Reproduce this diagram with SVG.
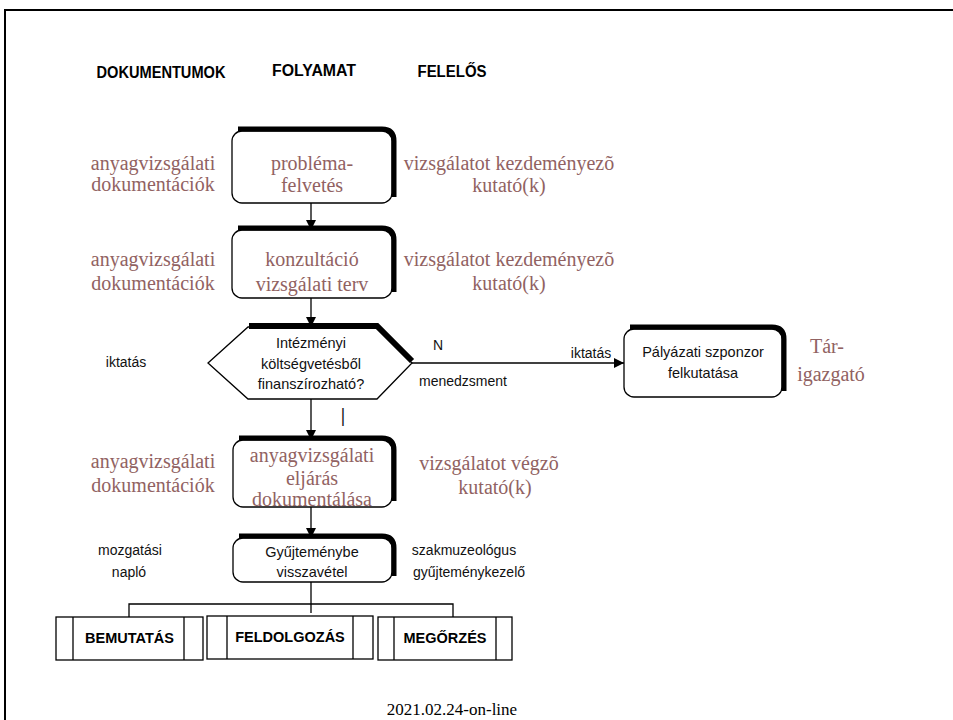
<svg xmlns="http://www.w3.org/2000/svg" width="953" height="720" viewBox="0 0 953 720">
<defs>
<style>
.frame{fill:none;stroke:#000;stroke-width:2}
.box{fill:#fff;stroke:#000;stroke-width:1.3}
.thick{fill:none;stroke:#000;stroke-width:5}
.ln{fill:none;stroke:#000;stroke-width:1.3}
.pp{fill:#fff;stroke:#000;stroke-width:1.3}
.br{font-family:"Liberation Serif","Times New Roman",serif;font-size:20px;fill:#916262;text-anchor:middle}
.bl{font-family:"Liberation Sans",Arial,sans-serif;font-size:14px;fill:#111;text-anchor:middle}
.hd{font-family:"Liberation Sans",Arial,sans-serif;font-size:16px;font-weight:bold;fill:#000;text-anchor:middle}
.bb{font-family:"Liberation Sans",Arial,sans-serif;font-size:14.5px;font-weight:bold;fill:#000;text-anchor:middle}
.ft{font-family:"Liberation Serif","Times New Roman",serif;font-size:17px;fill:#000;text-anchor:middle}
</style>
<marker id="ah" viewBox="0 0 10 10" refX="10" refY="5" markerWidth="10" markerHeight="10" markerUnits="userSpaceOnUse" orient="auto">
<path d="M0,0 L10,5 L0,10 z" fill="#000"/>
</marker>
</defs>
<rect width="953" height="720" fill="#fff"/>
<path class="frame" d="M5,720 V10 H953"/>

<g id="headers">
<text class="hd" x="161" y="78" textLength="129" lengthAdjust="spacingAndGlyphs">DOKUMENTUMOK</text>
<text class="hd" x="314" y="76" textLength="84" lengthAdjust="spacingAndGlyphs">FOLYAMAT</text>
<text class="hd" x="452" y="77" textLength="69" lengthAdjust="spacingAndGlyphs">FELELŐS</text>
</g>

<g id="connectors">
<line class="ln" x1="311" y1="203" x2="311" y2="230" marker-end="url(#ah)"/>
<line class="ln" x1="311" y1="298" x2="311" y2="327" marker-end="url(#ah)"/>
<line class="ln" x1="412" y1="363" x2="624" y2="363" marker-end="url(#ah)"/>
<line class="ln" x1="311" y1="399" x2="311" y2="440" marker-end="url(#ah)"/>
<line class="ln" x1="311" y1="507" x2="311" y2="538" marker-end="url(#ah)"/>
<line class="ln" x1="311" y1="582" x2="311" y2="613"/>
<path class="ln" d="M129,617 V604 H453 V617"/>
</g>

<g id="row1-labels">
<text class="br" x="153" y="170">anyagvizsgálati</text>
<text class="br" x="153" y="191">dokumentációk</text>
<text class="br" x="509" y="170">vizsgálatot kezdeményezõ</text>
<text class="br" x="509" y="192">kutató(k)</text>
</g>
<g id="node-problema">
<rect class="box" x="232" y="131" width="160" height="72" rx="10"/>
<path class="thick" d="M238,129 H382 Q394,129 394,141 V197"/>
<text class="br" x="312" y="170">probléma-</text>
<text class="br" x="312" y="192">felvetés</text>
</g>

<g id="row2-labels">
<text class="br" x="153" y="266">anyagvizsgálati</text>
<text class="br" x="153" y="290">dokumentációk</text>
<text class="br" x="509" y="266">vizsgálatot kezdeményezõ</text>
<text class="br" x="509" y="290">kutató(k)</text>
</g>
<g id="node-konzultacio">
<rect class="box" x="232" y="230" width="160" height="68" rx="10"/>
<path class="thick" d="M238,228 H382 Q394,228 394,240 V292"/>
<text class="br" x="312" y="266">konzultáció</text>
<text class="br" x="312" y="291">vizsgálati terv</text>
</g>

<g id="node-decision">
<polygon class="box" points="248,327 377,327 412,363 377,399 248,399 208,363"/>
<polyline class="thick" points="249,326 377,326 412,361" style="stroke-width:6"/>
<text class="bl" x="311" y="348" style="font-size:14.5px">Intézményi</text>
<text class="bl" x="311" y="369" style="font-size:14.5px">költségvetésből</text>
<text class="bl" x="311" y="389" style="font-size:14.5px">finanszírozható?</text>
</g>
<g id="decision-labels">
<text class="bl" x="126" y="367">iktatás</text>
<text class="bl" x="438" y="350">N</text>
<text class="bl" x="591" y="358">iktatás</text>
<text class="bl" x="463" y="386">menedzsment</text>
<text class="bl" x="0" y="0" transform="translate(343,426) scale(1,1.9)" style="font-size:14px">I</text>
</g>

<g id="node-palyazati">
<rect class="box" x="624" y="329" width="158" height="68" rx="10"/>
<path class="thick" d="M630,327 H772 Q784,327 784,339 V391"/>
<text class="bl" x="703" y="357" style="font-size:14.5px">Pályázati szponzor</text>
<text class="bl" x="703" y="378" style="font-size:14.5px">felkutatása</text>
</g>
<g id="tar-label">
<text class="br" x="827" y="353">Tár-</text>
<text class="br" x="831" y="381">igazgató</text>
</g>

<g id="row3-labels">
<text class="br" x="153" y="468">anyagvizsgálati</text>
<text class="br" x="153" y="492">dokumentációk</text>
<text class="br" x="489" y="470">vizsgálatot végzõ</text>
<text class="br" x="495" y="494">kutató(k)</text>
</g>
<g id="node-eljaras">
<rect class="box" x="233" y="440" width="159" height="67" rx="10"/>
<path class="thick" d="M239,438 H382 Q394,438 394,450 V501"/>
<text class="br" x="312" y="462">anyagvizsgálati</text>
<text class="br" x="312" y="485">eljárás</text>
<text class="br" x="312" y="506">dokumentálása</text>
</g>

<g id="row4-labels">
<text class="bl" x="130" y="555">mozgatási</text>
<text class="bl" x="129" y="577">napló</text>
<text class="bl" x="464" y="555">szakmuzeológus</text>
<text class="bl" x="469" y="577">gyűjteménykezelő</text>
</g>
<g id="node-gyujtemeny">
<rect class="box" x="233" y="538" width="159" height="44" rx="10"/>
<path class="thick" d="M239,536 H382 Q394,536 394,548 V576"/>
<text class="bl" x="312" y="557" style="font-size:14.5px">Gyűjteménybe</text>
<text class="bl" x="312" y="577" style="font-size:14.5px">visszavétel</text>
</g>

<g id="node-bemutatas">
<rect class="pp" x="56" y="617" width="147" height="43"/>
<line class="ln" x1="73" y1="617" x2="73" y2="660"/>
<line class="ln" x1="184" y1="617" x2="184" y2="660"/>
<text class="bb" x="129.5" y="643">BEMUTATÁS</text>
</g>
<g id="node-feldolgozas">
<rect class="pp" x="207" y="616" width="166" height="43"/>
<line class="ln" x1="227" y1="616" x2="227" y2="659"/>
<line class="ln" x1="353" y1="616" x2="353" y2="659"/>
<text class="bb" x="290" y="642">FELDOLGOZÁS</text>
</g>
<g id="node-megorzes">
<rect class="pp" x="378" y="617" width="134" height="43"/>
<line class="ln" x1="394" y1="617" x2="394" y2="660"/>
<line class="ln" x1="496" y1="617" x2="496" y2="660"/>
<text class="bb" x="445" y="643">MEGŐRZÉS</text>
</g>

<text class="ft" x="452" y="715">2021.02.24-on-line</text>
</svg>
